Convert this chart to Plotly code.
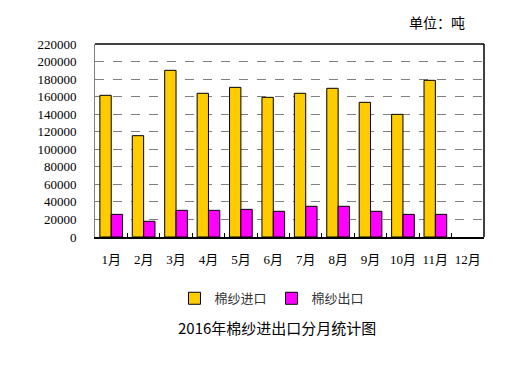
import plotly.graph_objects as go

months = ["1月", "2月", "3月", "4月", "5月", "6月", "7月", "8月", "9月", "10月", "11月", "12月"]
imports = [161500, 115500, 190000, 163800, 170600, 159200, 163800, 169500, 153500, 139800, 178600, None]
exports = [25800, 17900, 30400, 30400, 31500, 29300, 35000, 35000, 29300, 25800, 25800, None]
y_ticks = list(range(0, 220001, 20000))

serif = "'Liberation Serif', 'Noto Sans CJK SC', serif"
cjk = "'Noto Sans CJK SC', sans-serif"

fig = go.Figure()
fig.add_trace(go.Bar(x=months, y=imports, name="棉纱进口",
                     marker=dict(color="#FFCC00", line=dict(color="black", width=1))))
fig.add_trace(go.Bar(x=months, y=exports, name="棉纱出口",
                     marker=dict(color="#FF00FF", line=dict(color="black", width=1))))

fig.update_layout(
    width=518, height=376,
    margin=dict(l=95, r=34, t=44, b=139, autoexpand=False),
    paper_bgcolor="white", plot_bgcolor="white",
    barmode="group", bargap=0.3, bargroupgap=0,
    font=dict(family=serif, size=13, color="black"),
    showlegend=True,
    legend=dict(orientation="h", x=0.455, xanchor="center", y=-0.24, yanchor="top",
                font=dict(family=cjk, size=13, color="#333"),
                tracegroupgap=0, itemwidth=30),
    xaxis=dict(type="category", tickson="boundaries", ticks="inside", ticklen=4,
               tickcolor="black", showline=True, linecolor="black", linewidth=1.5,
               tickangle=0, automargin=False, ticklabelstandoff=10,
               tickfont=dict(family=serif, size=13)),
    yaxis=dict(range=[0, 220000], tickvals=y_ticks, ticktext=[str(v) for v in y_ticks],
               showgrid=True, gridcolor="#808080", griddash="dash", gridwidth=1,
               showline=True, linecolor="#808080", linewidth=1, zeroline=False,
               ticks="", automargin=False, ticklabelstandoff=15,
               tickfont=dict(family=serif, size=13)),
    shapes=[
        dict(type="line", xref="paper", yref="paper", x0=0, x1=1, y0=1, y1=1,
             line=dict(color="black", width=1.5)),
        dict(type="line", xref="paper", yref="paper", x0=1, x1=1, y0=0, y1=1,
             line=dict(color="black", width=1.5)),
    ],
    annotations=[
        dict(text="2016年棉纱进出口分月统计图", xref="paper", yref="paper",
             x=0.468, y=-0.47, xanchor="center", yanchor="middle", showarrow=False,
             font=dict(family=cjk, size=15, color="black")),
        dict(text="单位：吨", xref="paper", yref="paper",
             x=0.878, y=1.115, xanchor="center", yanchor="middle", showarrow=False,
             font=dict(family=cjk, size=14, color="black")),
    ],
)

fig.write_html("out.html", config={"displayModeBar": False},
               post_script="document.body.style.margin='0';document.body.style.overflow='hidden';")
